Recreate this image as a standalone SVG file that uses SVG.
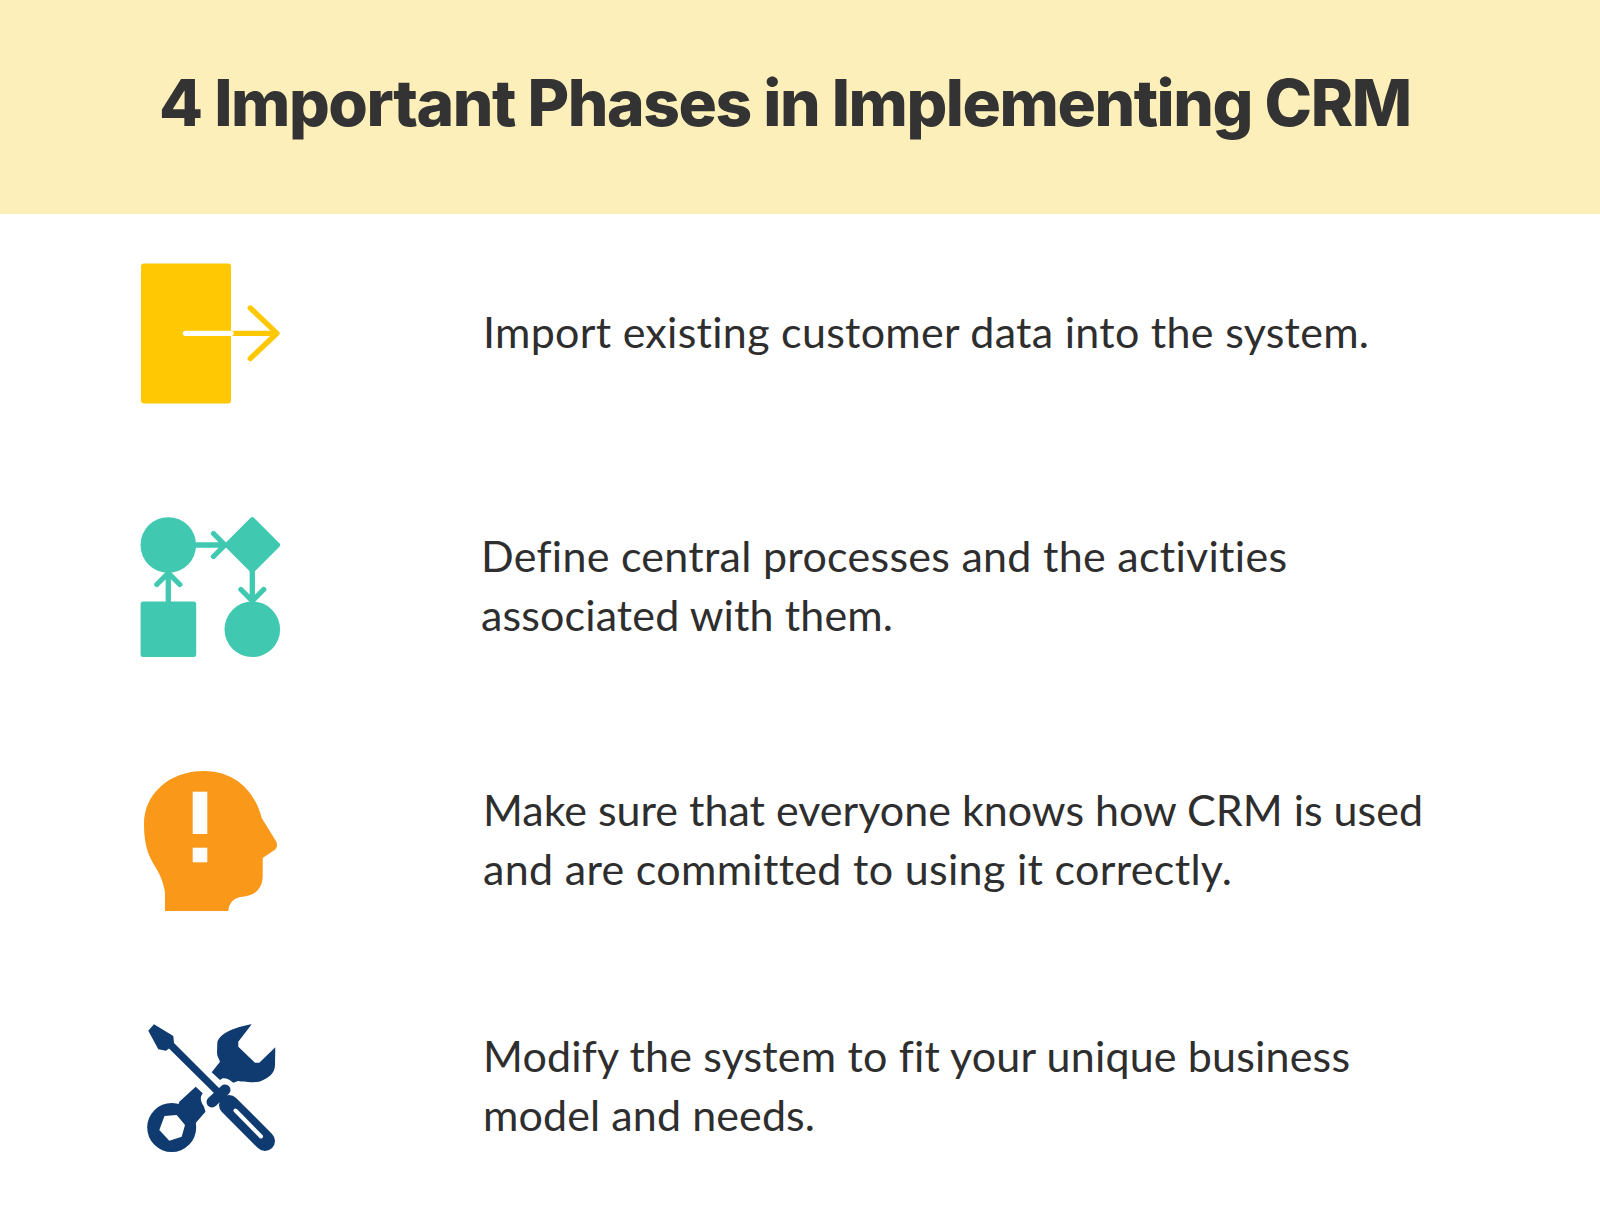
<svg xmlns="http://www.w3.org/2000/svg" width="1600" height="1231" viewBox="0 0 1600 1231">
<style>
.b{font-family:"Lato","Liberation Sans",sans-serif;font-size:43px;fill:#2e2e2e;font-variant-ligatures:none}
.t{font-family:"Inter","Liberation Sans",sans-serif;font-size:64px;font-weight:800;fill:#333}
.y{fill:none;stroke:#ffc803;stroke-width:5.3;stroke-linecap:round;stroke-linejoin:round}
.g{fill:none;stroke:#40c9b0;stroke-width:5.3;stroke-linecap:round;stroke-linejoin:round}
.n{fill:#0f3b70}
.s{fill:none;stroke:#0f3b70;stroke-linecap:round}
</style>
<rect width="1600" height="1231" fill="#fff"/>
<rect width="1600" height="214" fill="#fcefb9"/>
<text class="t" x="159" y="126" textLength="1253">4 Important Phases in Implementing CRM</text>
<g id="phase1">
<rect x="141" y="263.5" width="90" height="140" rx="3" fill="#ffc803"/>
<path class="y" d="M231 333.300H275M250.300 308L277 333.300L250.300 358.500"/>
<path d="M185.500 333.300H231" fill="none" stroke="#fff" stroke-width="5.3" stroke-linecap="round"/>
<text class="b" x="483" y="348" textLength="886">Import existing customer data into the system.</text>
</g>
<g id="phase2">
<circle cx="168.300" cy="545" r="27.800" fill="#40c9b0"/>
<rect x="231.800" y="524.500" width="41" height="41" rx="3" transform="rotate(45 252.300 545)" fill="#40c9b0"/>
<rect x="140.600" y="601.600" width="55.600" height="55.400" rx="2.500" fill="#40c9b0"/>
<circle cx="252.300" cy="629.300" r="27.800" fill="#40c9b0"/>
<path class="g" d="M196 545H224M213.500 533.500L225 545L213.500 556.500M168.300 601V574M156.800 584.500L168.300 573L179.800 584.500M252.300 570V600M241 589.500L252.300 601L263.700 589.500"/>
<text class="b" x="481" y="572" textLength="806">Define central processes and the activities</text>
<text class="b" x="481" y="631" textLength="412">associated with them.</text>
</g>
<g id="phase3">
<path fill="#f99819" d="M165 911V893C163.500 882 160 875 156 868C150 858 144 848 144 824C144 795 168 771 204 771C232 771 254 788 261.700 818L276.500 842C277.500 846 277 848 274.500 850L262.700 858V876C262.700 888 255 896 243 896.700C236 897 229 901 228.300 911Z"/>
<rect x="192.700" y="791.700" width="14.600" height="42.300" fill="#fff"/>
<rect x="192.700" y="847.700" width="14.600" height="14.600" fill="#fff"/>
<text class="b" x="483" y="826" textLength="940">Make sure that everyone knows how CRM is used</text>
<text class="b" x="483" y="885" textLength="749">and are committed to using it correctly.</text>
</g>
<g id="phase4">
<path class="n" d="M179.300 1101.700L195.700 1086.700L202.700 1093.300C200 1097 200 1100.500 204 1106.700L205.500 1111.700L193 1126L176 1112Z"/>
<path class="n" fill-rule="evenodd" d="M147.200 1127.500A24.500 24.500 0 1 1 196.200 1127.500A24.500 24.500 0 1 1 147.200 1127.500ZM164.500 1116L176.700 1115L185 1125L181.700 1136.700L169.300 1140.700L159.300 1130Z"/>
<path class="n" d="M251.700 1024.300C235 1027 218 1034 217.300 1043.300L217 1053C217 1056 219 1059 220 1061.700L211.700 1072.300L220 1080L222.700 1078.300C227 1078 230 1080 233.300 1082.700L238 1081C246 1082.500 254 1082.500 260 1081.500C269 1078 275 1073 275 1065L275.300 1047.300L259.300 1062.700H255L238.300 1046.700V1041.700Z"/>
<path d="M212 1102L225 1090" fill="none" stroke="#fff" stroke-width="17" stroke-linecap="round"/>
<path class="n" d="M148.300 1030.700L154 1024.300L173.300 1036L174 1043L221 1090L216 1095L169 1048.500L166 1050.700L158.300 1049.300Z"/>
<path class="s" stroke-width="11" d="M212 1102L225 1090"/>
<path class="s" stroke-width="20" d="M229 1105L265 1141"/>
<path d="M235.500 1110.500L261 1136.500" stroke="#fff" stroke-width="4" stroke-linecap="round" fill="none"/>
<text class="b" x="483" y="1072" textLength="867">Modify the system to fit your unique business</text>
<text class="b" x="483" y="1131" textLength="332">model and needs.</text>
</g>
</svg>
